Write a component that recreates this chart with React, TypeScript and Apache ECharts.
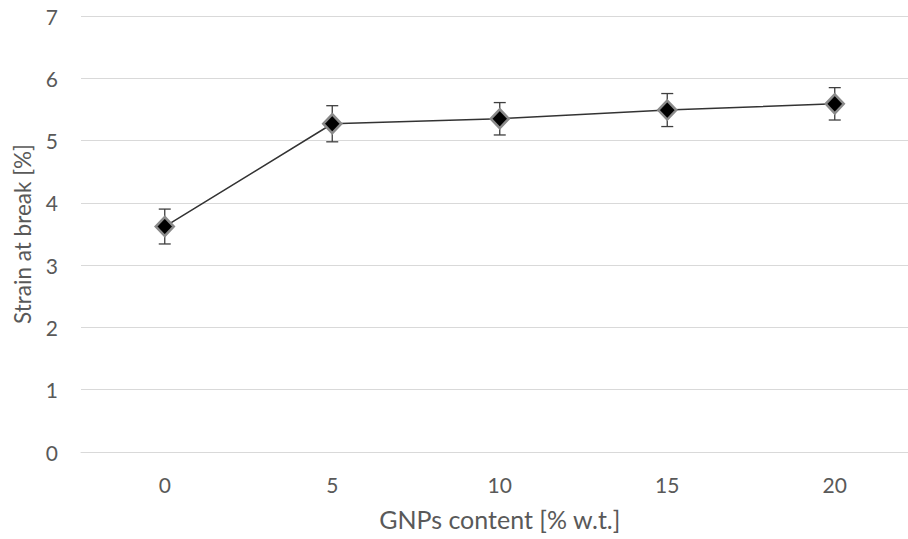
import React, { useEffect, useRef } from "react";
import * as echarts from "echarts";

// GNPs content categories and measured strain at break (mean ± std)
const contents = ["0", "5", "10", "15", "20"];
const strainMean = [3.62, 5.27, 5.35, 5.49, 5.59];
const strainErr = [0.28, 0.29, 0.26, 0.265, 0.26];

const FONT = "Lato, 'Open Sans', sans-serif";
const TEXT = "#595959";
const FS = 21;

export default function App() {
  const ref = useRef<HTMLDivElement>(null);

  useEffect(() => {
    if (!ref.current) return;
    const chart = echarts.init(ref.current, undefined, { renderer: "svg" });

    const errData = contents.map((_, i) => [
      i,
      strainMean[i] - strainErr[i],
      strainMean[i] + strainErr[i],
    ]);

    chart.setOption({
      animation: false,
      grid: { left: 81, top: 16, bottom: 87, width: 837.5 },
      xAxis: {
        type: "category",
        data: contents,
        boundaryGap: true,
        name: "GNPs content [% w.t.]",
        nameLocation: "middle",
        nameGap: 54,
        nameTextStyle: { color: TEXT, fontFamily: FONT, fontSize: 25 },
        axisLine: { show: true, lineStyle: { color: "#d9d9d9", width: 1 } },
        axisTick: { show: false },
        axisLabel: { color: TEXT, fontFamily: FONT, fontSize: FS, margin: 22 },
      },
      yAxis: {
        type: "value",
        min: 0,
        max: 7,
        interval: 1,
        name: "Strain at break [%]",
        nameLocation: "middle",
        nameGap: 47,
        nameRotate: 90,
        nameTextStyle: { color: TEXT, fontFamily: FONT, fontSize: 22.5 },
        axisLine: { show: false },
        axisTick: { show: false },
        axisLabel: { color: TEXT, fontFamily: FONT, fontSize: FS, margin: 23 },
        splitLine: { lineStyle: { color: "#d9d9d9", width: 1 } },
      },
      series: [
        {
          type: "custom",
          data: errData,
          z: 1,
          renderItem: (params: any, api: any) => {
            const x = api.value(0);
            const lo = api.coord([x, api.value(1)]);
            const hi = api.coord([x, api.value(2)]);
            const half = 6;
            const style = { stroke: "#3f3f3f", lineWidth: 1.3 };
            return {
              type: "group",
              children: [
                { type: "line", shape: { x1: lo[0], y1: lo[1], x2: hi[0], y2: hi[1] }, style },
                { type: "line", shape: { x1: lo[0] - half, y1: lo[1], x2: lo[0] + half, y2: lo[1] }, style },
                { type: "line", shape: { x1: hi[0] - half, y1: hi[1], x2: hi[0] + half, y2: hi[1] }, style },
              ],
            };
          },
        },
        {
          type: "line",
          data: strainMean,
          z: 2,
          symbol: "diamond",
          symbolSize: [18, 19],
          lineStyle: { color: "#333333", width: 1.5 },
          itemStyle: {
            color: "#000000",
            borderColor: "#8a8a8a",
            borderWidth: 2.5,
          },
        },
      ],
    });

    return () => chart.dispose();
  }, []);

  return (
    <div
      style={{
        position: "absolute",
        left: 0,
        top: 0,
        width: 908,
        height: 539,
        overflow: "hidden",
      }}
    >
      <div ref={ref} style={{ width: 930, height: 539 }} />
    </div>
  );
}
